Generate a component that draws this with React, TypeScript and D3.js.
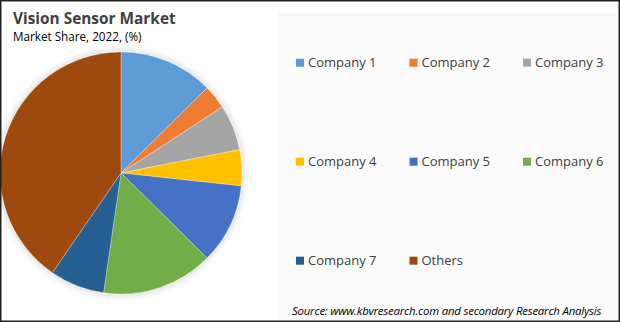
import React from "react";
import * as d3 from "d3";

const categories = ["Company 1", "Company 2", "Company 3", "Company 4", "Company 5", "Company 6", "Company 7", "Others"];
const shares = [12.6, 3.2, 6.1, 4.8, 10.7, 14.9, 7.3, 40.4];
const colors = ["#5B9BD5", "#ED7D31", "#A5A5A5", "#FFC000", "#4472C4", "#70AD47", "#255E91", "#9E480E"];

const W = 620;
const H = 322;
const FONT = "'Open Sans', 'Noto Sans', sans-serif";

export default function App() {
  const cx = 121, cy = 173, r = 121;
  const pie = d3.pie<number>().sort(null).value((d) => d);
  const arcs = pie(shares);
  const arc = d3.arc<d3.PieArcDatum<number>>().innerRadius(0).outerRadius(r);

  const colX = d3.scalePoint<number>().domain([0, 1, 2]).range([296, 523]);
  const rowY = d3.scalePoint<number>().domain([0, 1, 2]).range([62.7, 260.7]);

  return (
    <svg width={W} height={H} style={{ position: "absolute", left: 0, top: 0, display: "block" }}>
      <defs>
        <filter id="shadow" x="-20%" y="-20%" width="140%" height="140%">
          <feGaussianBlur in="SourceAlpha" stdDeviation="5" />
          <feComponentTransfer>
            <feFuncA type="linear" slope="0.22" />
          </feComponentTransfer>
          <feMerge>
            <feMergeNode />
            <feMergeNode in="SourceGraphic" />
          </feMerge>
        </filter>
      </defs>
      <rect x={0} y={0} width={W} height={H} fill="#ffffff" />
      <rect x={278} y={12} width={340} height={308} fill="#fafafa" />
      <text x={13} y={24} fontFamily={FONT} fontSize={15.4} fontWeight="bold" fill="#404040">
        Vision Sensor Market
      </text>
      <text x={13} y={41} fontFamily={FONT} fontSize={11.7} fill="#000000">
        Market Share, 2022, (%)
      </text>
      <g transform={`translate(${cx},${cy})`} filter="url(#shadow)">
        {arcs.map((a, i) => (
          <path key={i} d={arc(a) || ""} fill={colors[i]} stroke="#ffffff" strokeWidth={0.3} />
        ))}
      </g>
      {categories.map((c, i) => {
        const x = colX(i % 3)!;
        const y = rowY(Math.floor(i / 3))!;
        return (
          <g key={c}>
            <rect x={x} y={y - 4} width={8} height={8} fill={colors[i]} />
            <text x={x + 12} y={y} dy="0.35em" fontFamily={FONT} fontSize={13} fill="#404040">
              {c}
            </text>
          </g>
        );
      })}
      <text x={292} y={315} fontFamily={FONT} fontSize={11.4} fontStyle="italic" fill="#000000" letterSpacing={-0.2}>
        Source: www.kbvresearch.com and secondary Research Analysis
      </text>
      <rect x={0.75} y={0.75} width={W - 1.5} height={H - 1.5} fill="none" stroke="#222222" strokeWidth={1.5} />
    </svg>
  );
}
